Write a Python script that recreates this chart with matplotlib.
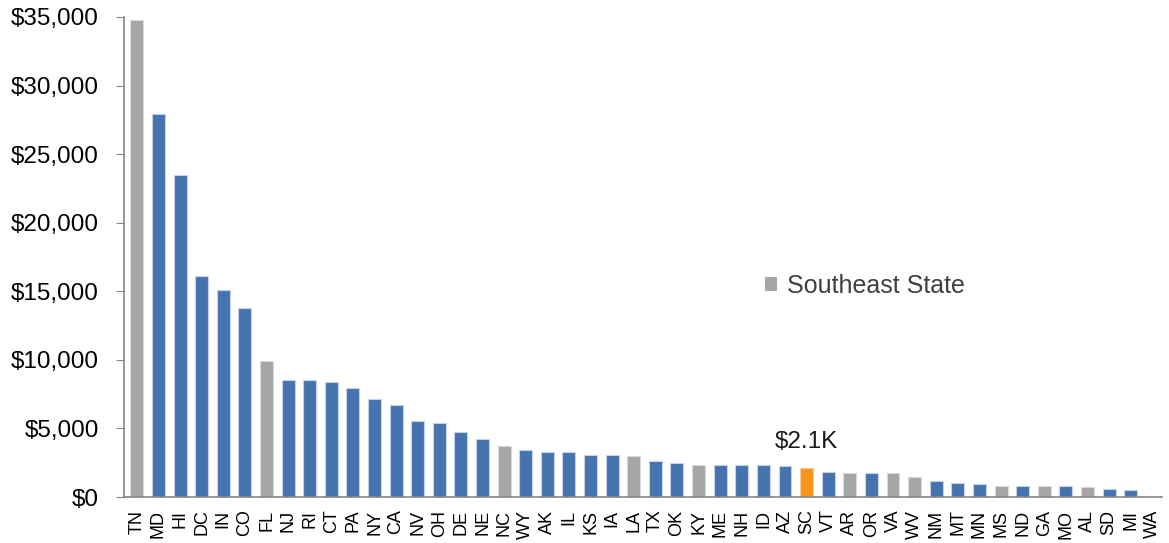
import matplotlib.pyplot as plt
from matplotlib.patches import Patch
from matplotlib.ticker import FuncFormatter

plt.rcParams['font.family'] = ['Liberation Sans', 'DejaVu Sans']

states = ['TN', 'MD', 'HI', 'DC', 'IN', 'CO', 'FL', 'NJ', 'RI', 'CT', 'PA', 'NY',
          'CA', 'NV', 'OH', 'DE', 'NE', 'NC', 'WY', 'AK', 'IL', 'KS', 'IA', 'LA',
          'TX', 'OK', 'KY', 'ME', 'NH', 'ID', 'AZ', 'SC', 'VT', 'AR', 'OR', 'VA',
          'WV', 'NM', 'MT', 'MN', 'MS', 'ND', 'GA', 'MO', 'AL', 'SD', 'MI', 'WA']
values = [34800, 27900, 23500, 16150, 15100, 13800, 9950, 8550, 8550, 8370, 7930, 7130,
          6690, 5550, 5380, 4740, 4230, 3700, 3430, 3260, 3260, 3090, 3090, 3020,
          2650, 2490, 2340, 2340, 2340, 2340, 2240, 2100, 1820, 1730, 1730, 1730,
          1460, 1190, 1020, 920, 830, 830, 830, 830, 750, 580, 490, 0]
southeast = {'TN', 'FL', 'NC', 'LA', 'KY', 'AR', 'VA', 'WV', 'MS', 'GA', 'AL'}
highlight = 'SC'
highlight_label = '$2.1K'

BLUE = '#4473ad'
GRAY = '#a6a6a6'
ORANGE = '#f7941d'

colors, edges = [], []
for s in states:
    if s == highlight:
        colors.append(ORANGE); edges.append('#fbc78a')
    elif s in southeast:
        colors.append(GRAY); edges.append('#d9d9d9')
    else:
        colors.append(BLUE); edges.append('#c5d3e8')

fig = plt.figure(figsize=(11.69, 5.43), dpi=100)
ax = fig.add_axes([0.106, 0.0847, 0.888, 0.884])

x = range(len(states))
ax.bar(x, values, width=0.6, color=colors, edgecolor=edges, linewidth=0.8, zorder=2)

ax.set_xlim(-0.6, len(states) - 0.55)
ax.set_ylim(0, 35000)
ax.set_yticks(range(0, 35001, 5000))
ax.yaxis.set_major_formatter(FuncFormatter(lambda v, p: f'${v:,.0f}'))
ax.set_xticks(list(x))
ax.set_xticklabels(states, rotation=90, fontsize=13)
ax.tick_params(axis='y', labelsize=17.5, length=6, color='#868686', direction='out', pad=12)
ax.tick_params(axis='x', length=0, pad=9)

for side in ('top', 'right'):
    ax.spines[side].set_visible(False)
for side in ('left', 'bottom'):
    ax.spines[side].set_color('#868686')
    ax.spines[side].set_linewidth(1.2)

# value callout on the highlighted state
i = states.index(highlight)
ax.annotate(highlight_label, xy=(i, values[i]), xytext=(0, 15), textcoords='offset pixels',
            ha='center', va='bottom', fontsize=17.5, color='#1a1a1a')

ax.legend(handles=[Patch(facecolor=GRAY, edgecolor='none', label='Southeast State')],
          loc='center left', bbox_to_anchor=(0.6175, 0.44), frameon=False,
          borderpad=0, borderaxespad=0,
          fontsize=18, handlelength=0.5, handleheight=0.5, handletextpad=0.4,
          labelcolor='#404040')

fig.savefig('out.png', dpi=100)
